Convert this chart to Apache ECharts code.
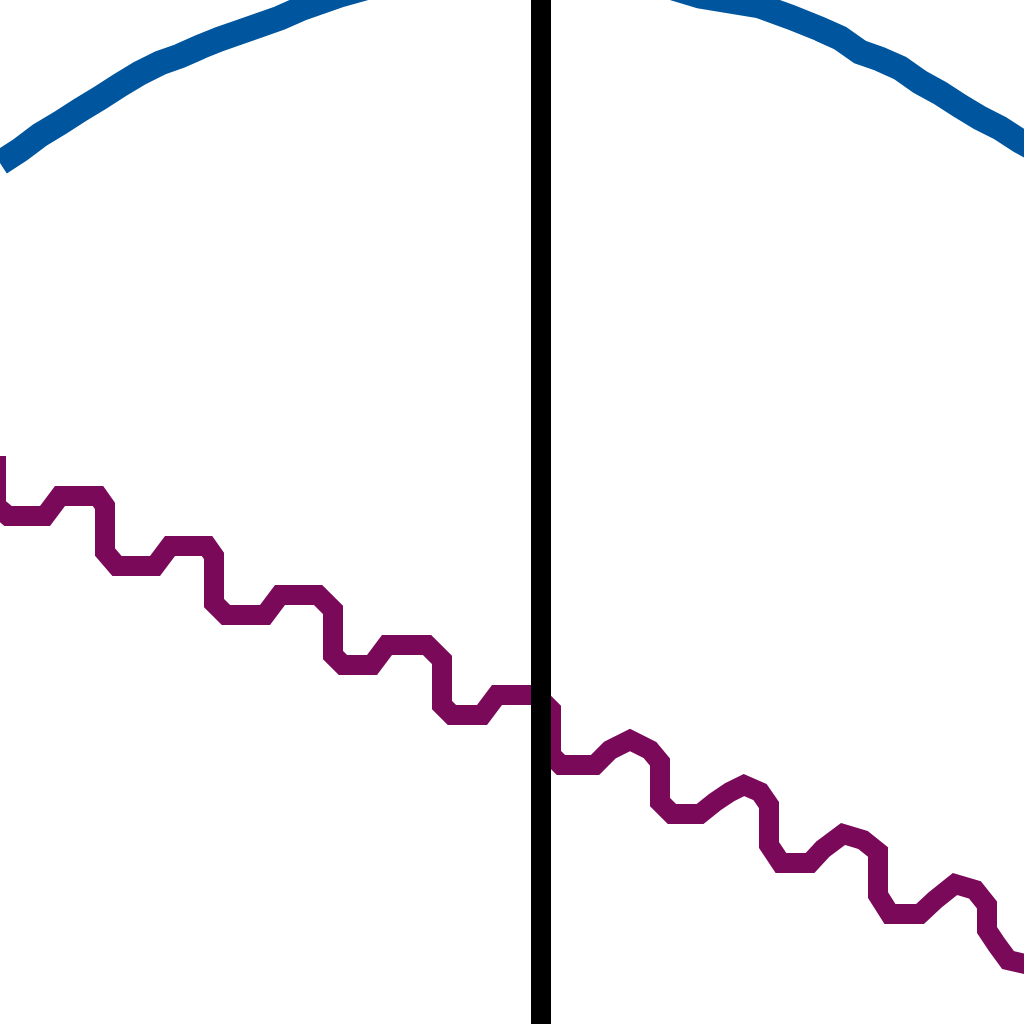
<!DOCTYPE html>
<html>
<head>
<meta charset="utf-8">
<script src="https://cdn.jsdelivr.net/npm/echarts@6/dist/echarts.min.js"></script>
<style>html,body{margin:0;padding:0;background:#fff}#c{width:1024px;height:1024px}</style>
</head>
<body>
<div id="c"></div>
<script>
// Blue arc (x, y); y grows downward
const blueX = [0, 20, 40, 60, 80, 100, 120, 140, 160, 180, 200, 220, 240, 260, 280, 300, 320, 340, 372, 400, 450, 520, 590, 640, 670, 700, 760, 790, 820, 840, 860, 880, 900, 920, 940, 960, 980, 1000, 1020, 1040];
const blueY = [163, 150, 135, 123, 110, 98, 85, 73, 63, 56, 47, 39, 32, 25, 18, 9, 2, -5, -14, -20, -26, -30, -28, -20, -13, -4, 6, 17, 29, 38, 52, 59, 68, 82, 93, 106, 118, 128, 141, 152];
// Purple wavy descending line
const purpleX = [-4, -4, 8, 45, 60, 98, 105, 105, 117, 155, 170, 207, 214, 214, 226, 265, 280, 318, 333, 333, 343, 372, 387, 427, 442, 442, 452, 482, 497, 536, 551, 551, 561, 595, 610, 630, 650, 660, 660, 672, 700, 715, 730, 744, 760, 769, 769, 781, 810, 823, 843, 863, 878, 878, 890, 920, 935, 955, 975, 987, 987, 997, 1008, 1030];
const purpleY = [456, 506, 516, 516, 496, 496, 506, 552, 566, 566, 546, 546, 556, 603, 615, 615, 595, 595, 610, 655, 665, 665, 645, 645, 660, 705, 715, 715, 695, 695, 710, 755, 765, 765, 750, 740, 750, 762, 802, 814, 814, 802, 792, 785, 792, 805, 845, 863, 863, 849, 834, 840, 852, 895, 914, 914, 900, 884, 890, 905, 930, 945, 960, 965];
// Vertical black divider position
const dividerX = 541;

const zip = (xs, ys) => xs.map((x, i) => [x, ys[i]]);

const chart = echarts.init(document.getElementById('c'), null, {renderer: 'canvas'});
chart.setOption({
  animation: false,
  backgroundColor: '#ffffff',
  grid: {left: 0, right: 0, top: 0, bottom: 0},
  xAxis: {type: 'value', min: 0, max: 1024, show: false},
  yAxis: {type: 'value', min: 0, max: 1024, inverse: true, show: false},
  series: [
    {
      type: 'line', data: zip(blueX, blueY), showSymbol: false, clip: true,
      lineStyle: {color: '#00569E', width: 25, join: 'miter'}
    },
    {
      type: 'line', data: zip(purpleX, purpleY), showSymbol: false, clip: true,
      lineStyle: {color: '#7B0959', width: 20, join: 'miter', cap: 'butt'},
      markLine: {
        silent: true, symbol: ['none', 'none'], label: {show: false},
        lineStyle: {color: '#000000', width: 20, type: 'solid'},
        data: [{xAxis: dividerX}]
      }
    }
  ]
});
</script>
</body>
</html>
